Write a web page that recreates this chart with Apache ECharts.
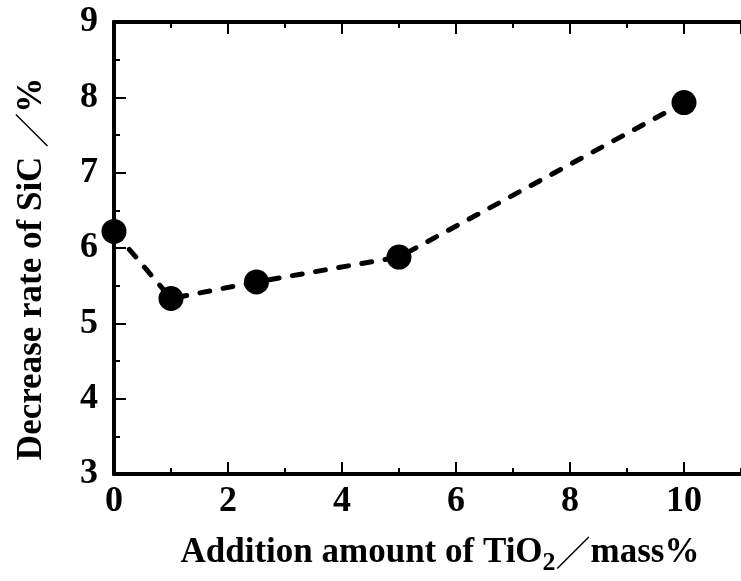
<!DOCTYPE html>
<html>
<head>
<meta charset="utf-8">
<script src="https://cdn.jsdelivr.net/npm/echarts@6/dist/echarts.min.js"></script>
<style>
  html, body { margin: 0; padding: 0; background: #fff; }
  #chart { width: 741px; height: 581px; }
</style>
</head>
<body>
<div id="chart"></div>
<script>
// TiO2 addition (mass%) vs. decrease rate of SiC (%)
const additionAmount = [0, 1, 2.5, 5, 10];
const decreaseRate = [6.22, 5.33, 5.55, 5.88, 7.93];

const xMin = 0, xMax = 11, xMajor = 2, xMinor = 1;
const yMin = 3, yMax = 9, yMajor = 1;

const serif = '"Liberation Serif", "Times New Roman", serif';
const AXIS_W = 4;
const TICK_FONT = 36;
const TITLE_FONT = 35;

const chart = echarts.init(document.getElementById('chart'));

function xAxisDef(position, interval, tickLen, showLabel) {
  return {
    type: 'value',
    position: position,
    min: xMin,
    max: xMax,
    interval: interval,
    axisLine: { show: true, onZero: false, lineStyle: { color: '#000', width: AXIS_W } },
    axisTick: { show: true, inside: true, length: tickLen, lineStyle: { color: '#000', width: 2 } },
    axisLabel: {
      show: showLabel,
      margin: 10,
      color: '#000',
      fontFamily: serif,
      fontWeight: 'bold',
      fontSize: TICK_FONT,
      showMaxLabel: false,
      formatter: v => (v > 10 ? '' : String(v))
    },
    splitLine: { show: false }
  };
}

chart.setOption({
  animation: false,
  backgroundColor: '#fff',
  grid: { left: 114, top: 22, width: 632, height: 452, containLabel: false },
  xAxis: [
    xAxisDef('bottom', xMajor, 12, true),
    xAxisDef('bottom', xMinor, 6, false),
    xAxisDef('top', xMajor, 12, false),
    xAxisDef('top', xMinor, 6, false)
  ],
  yAxis: {
    type: 'value',
    min: yMin,
    max: yMax,
    interval: yMajor,
    axisLine: { show: true, onZero: false, lineStyle: { color: '#000', width: AXIS_W } },
    axisTick: { show: true, inside: true, length: 12, lineStyle: { color: '#000', width: 2 } },
    minorTick: { show: true, splitNumber: 2, length: 6, lineStyle: { color: '#000', width: 2 } },
    axisLabel: {
      margin: 16,
      color: '#000',
      fontFamily: serif,
      fontWeight: 'bold',
      fontSize: TICK_FONT
    },
    splitLine: { show: false }
  },
  graphic: [
    {
      type: 'text',
      x: 440,
      y: 553,
      style: {
        text: '{t|Addition amount of TiO}{s|2}{sl|／}{t|mass%}',
        align: 'center',
        verticalAlign: 'middle',
        rich: {
          t: { fontFamily: serif, fontWeight: 'bold', fontSize: TITLE_FONT, fill: '#000' },
          s: { fontFamily: serif, fontWeight: 'bold', fontSize: 26, fill: '#000', padding: [20, 0, 0, 0] },
          sl: { fontFamily: '"Noto Sans CJK JP"', fontWeight: 'normal', fontSize: TITLE_FONT, fill: '#000' }
        }
      }
    },
    {
      type: 'text',
      x: 32,
      y: 269,
      rotation: Math.PI / 2,
      style: {
        text: '{t|Decrease rate of SiC }{sl|／}{t|%}',
        align: 'center',
        verticalAlign: 'middle',
        rich: {
          t: { fontFamily: serif, fontWeight: 'bold', fontSize: TITLE_FONT, fill: '#000' },
          sl: { fontFamily: '"Noto Sans CJK JP"', fontWeight: 'normal', fontSize: TITLE_FONT, fill: '#000' }
        }
      }
    }
  ],
  series: [
    {
      type: 'line',
      xAxisIndex: 0,
      data: additionAmount.map((x, i) => [x, decreaseRate[i]]),
      symbol: 'circle',
      symbolSize: 25,
      itemStyle: { color: '#000' },
      lineStyle: { color: '#000', width: 5, type: [10, 13.5], cap: 'round' },
      z: 3
    }
  ]
});
</script>
</body>
</html>
